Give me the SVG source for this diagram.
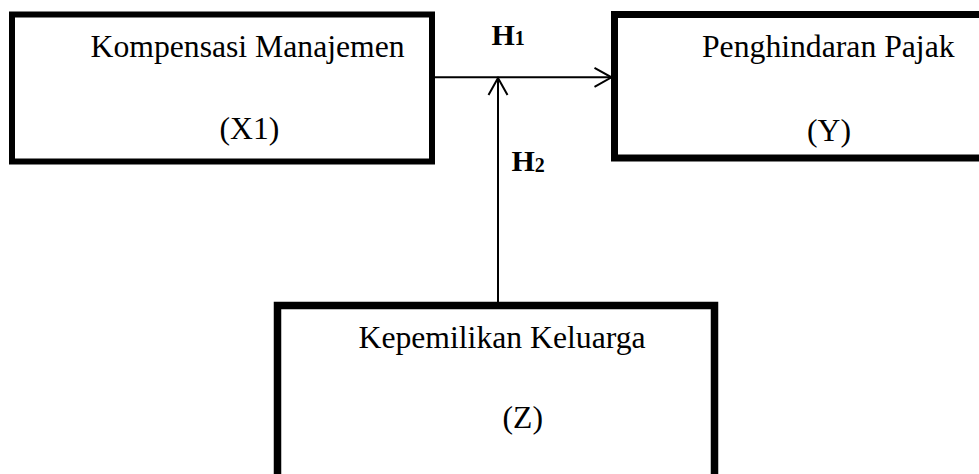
<svg xmlns="http://www.w3.org/2000/svg" width="979" height="474" viewBox="0 0 979 474">
<style>
.box{fill:#fff;stroke:#000;}
.t{font-family:"Liberation Serif","Times New Roman",serif;font-size:31.7px;fill:#000;}
.h{font-family:"Liberation Serif","Times New Roman",serif;font-size:30px;font-weight:bold;fill:#000;}
.sub{font-size:20px;}
.conn{stroke:#000;stroke-width:2;fill:none;}
</style>
<defs>
<marker id="arr" markerUnits="userSpaceOnUse" markerWidth="22" markerHeight="24" viewBox="0 0 22 24" refX="20" refY="12" orient="auto">
<path d="M3,2.5 L20,12 L3,21.5" fill="none" stroke="#000" stroke-width="2"/>
</marker>
</defs>
<rect width="979" height="474" fill="#fff"/>
<g id="node-x1">
<rect class="box" x="12" y="14.5" width="420" height="147" stroke-width="6"/>
<text class="t" x="90.5" y="57">Kompensasi Manajemen</text>
<text class="t" x="219.5" y="139">(X1)</text>
</g>
<g id="node-y">
<rect class="box" x="614.5" y="14.5" width="380" height="143.5" stroke-width="7"/>
<text class="t" x="702" y="57">Penghindaran Pajak</text>
<text class="t" x="807" y="141">(Y)</text>
</g>
<g id="node-z">
<rect class="box" x="277.5" y="305.5" width="437" height="190" stroke-width="7.5"/>
<text class="t" x="358.5" y="348">Kepemilikan Keluarga</text>
<text class="t" x="502.5" y="428">(Z)</text>
</g>
<g id="connectors">
<line class="conn" x1="435" y1="77.3" x2="611.5" y2="77.3" marker-end="url(#arr)"/>
<line class="conn" x1="498" y1="302" x2="498" y2="78" marker-end="url(#arr)"/>
</g>
<g id="labels">
<text class="h" x="491.5" y="45">H<tspan class="sub">1</tspan></text>
<text class="h" x="511.5" y="170.5">H<tspan class="sub" dy="1.5">2</tspan></text>
</g>
</svg>
